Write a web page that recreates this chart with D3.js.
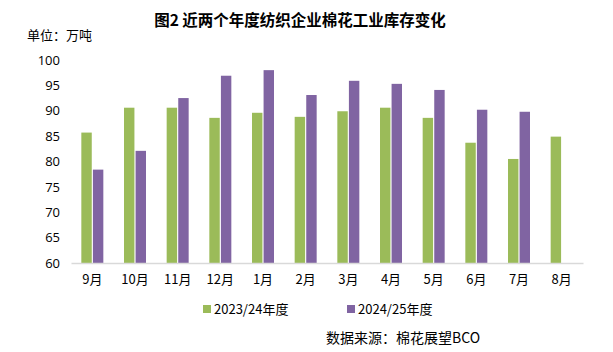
<!DOCTYPE html>
<html>
  <head>
    <meta charset="utf-8">
    <title>近两个年度纺织企业棉花工业库存变化</title>
    <script src="https://cdn.jsdelivr.net/npm/d3@7"></script>
    <style>
      body { margin: 0; background: #fff; }
      svg text { font-family: "Noto Sans CJK SC", "Noto Sans", sans-serif; fill: #000; }
    </style>
  </head>
  <body>
    <svg id="chart" width="613" height="352"></svg>

    <script>
      // data
      months = ["9月", "10月", "11月", "12月", "1月", "2月", "3月", "4月", "5月", "6月", "7月", "8月"];
      seriesNames = ["2023/24年度", "2024/25年度"];
      stock2324 = [85.7, 90.6, 90.6, 88.6, 89.6, 88.8, 89.9, 90.6, 88.6, 83.7, 80.5, 84.9];
      stock2425 = [78.4, 82.1, 92.5, 96.9, 98.0, 93.1, 95.9, 95.3, 94.1, 90.2, 89.8, null];
      yTicks = [60, 65, 70, 75, 80, 85, 90, 95, 100];
      colors = ["#9bbb59", "#8064a2"];

      // layout
      svg = d3.select("#chart");
      margin = { left: 71, right: 30, top: 60, bottom: 89 };
      width = 613 - margin.left - margin.right;
      height = 352 - margin.top - margin.bottom;

      x = d3.scaleBand()
        .domain(months)
        .range([0, width]);
      x1 = d3.scaleBand()
        .domain([0, 1])
        .range([x.bandwidth() / 2 - 11, x.bandwidth() / 2 + 11])
        .paddingInner(0.1);
      y = d3.scaleLinear()
        .domain([60, 100])
        .range([height, 0]);

      g = svg.append("g")
        .attr("transform", "translate(" + margin.left + "," + margin.top + ")");

      // bars
      [stock2324, stock2425].forEach(function(series, i) {
        g.append("g").selectAll("rect")
          .data(series.map(function(v, j) { return { m: months[j], v: v }; })
            .filter(function(d) { return d.v != null; }))
        .enter().append("rect")
          .attr("x", function(d) { return x(d.m) + x1(i); })
          .attr("width", x1.bandwidth())
          .attr("y", function(d) { return y(d.v); })
          .attr("height", function(d) { return height - y(d.v); })
          .attr("fill", colors[i]);
      });

      // y axis (labels only)
      yAxis = g.append("g")
        .call(d3.axisLeft(y).tickValues(yTicks).tickSize(0).tickPadding(11));
      yAxis.select(".domain").remove();
      yAxis.selectAll("text")
        .style("font-family", "\"Open Sans\", \"Noto Sans\", sans-serif")
        .style("font-size", "13px")
        .attr("fill", "#000");

      // x axis
      xAxis = g.append("g")
        .attr("transform", "translate(0," + height + ")")
        .call(d3.axisBottom(x).tickSize(0).tickPadding(12));
      xAxis.select(".domain").attr("stroke", "#d9d9d9").attr("stroke-width", 1.5);
      xAxis.selectAll("text")
        .style("font-size", "13px")
        .attr("fill", "#000");

      // title
      svg.append("text")
        .attr("x", 300)
        .attr("y", 26)
        .attr("text-anchor", "middle")
        .style("font-size", "15.5px")
        .style("font-weight", "bold")
        .text("图2 近两个年度纺织企业棉花工业库存变化");

      svg.append("text")
        .attr("x", 27)
        .attr("y", 40)
        .style("font-size", "13px")
        .text("单位：万吨");

      // legend
      legend = svg.append("g")
        .attr("transform", "translate(203,303)");
      seriesNames.forEach(function(name, i) {
        item = legend.append("g")
          .attr("transform", "translate(" + (i * 144) + ",0)");
        item.append("rect")
          .attr("width", 8)
          .attr("height", 8)
          .attr("y", 2)
          .attr("fill", colors[i]);
        item.append("text")
          .attr("x", 11)
          .attr("y", 11)
          .style("font-size", "13px")
          .text(name);
      });

      svg.append("text")
        .attr("x", 326)
        .attr("y", 343)
        .style("font-size", "14px")
        .text("数据来源：棉花展望BCO");
    </script>
  </body>
</html>
